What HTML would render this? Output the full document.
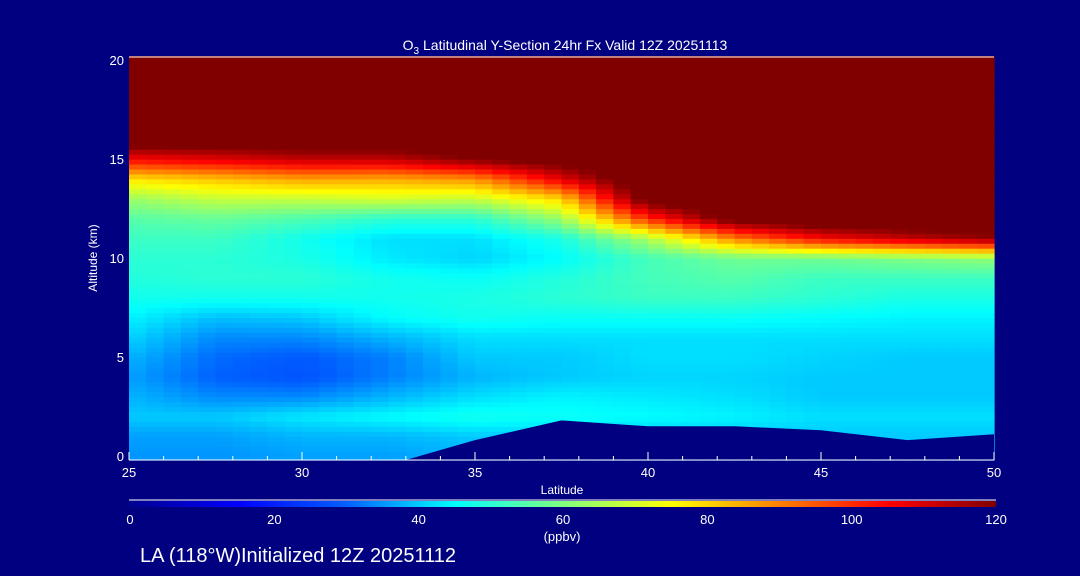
<!DOCTYPE html>
<html><head><meta charset="utf-8"><style>
body{margin:0;background:#000080;}
svg{display:block;font-family:"Liberation Sans",sans-serif;}
</style></head><body>
<svg id="chart" width="1080" height="576" xmlns="http://www.w3.org/2000/svg">
<rect width="1080" height="576" fill="#000080"/>
<defs><linearGradient id="cb" x1="0" x2="1" y1="0" y2="0">
<stop offset="0" stop-color="#000090"/><stop offset="0.125" stop-color="#0000ff"/><stop offset="0.25" stop-color="#0060ff"/><stop offset="0.375" stop-color="#00ffff"/><stop offset="0.5" stop-color="#80ff80"/><stop offset="0.625" stop-color="#ffff00"/><stop offset="0.75" stop-color="#ff8000"/><stop offset="0.875" stop-color="#ff0000"/><stop offset="1" stop-color="#800000"/></linearGradient></defs>
<g id="cells"></g>
<polygon id="ground" fill="#000080"/>
<g id="axes"></g>
<text x="565" y="50" fill="#fff" font-size="14" text-anchor="middle">O<tspan font-size="10" dy="4">3</tspan><tspan dy="-4"> Latitudinal Y-Section 24hr  Fx Valid 12Z 20251113</tspan></text>
<text x="562" y="494" fill="#fff" font-size="12" text-anchor="middle">Latitude</text>
<text x="97" y="258" fill="#fff" font-size="12" text-anchor="middle" transform="rotate(-90 97 258)">Altitude (km)</text>
<line x1="129" x2="996" y1="500" y2="500" stroke="#fff"/>
<rect x="130" y="501" width="866" height="6" fill="url(#cb)"/>
<g id="cbt"></g>
<text x="562" y="541" fill="#fff" font-size="13" text-anchor="middle">(ppbv)</text>
<text x="140" y="562" fill="#fff" font-size="20">LA (118°W)Initialized 12Z 20251112</text>
</svg>
<script>
const lats=[25,27.5,30,32.5,35,37.5,40,42.5,45,47.5,50];
const alts=[0,1,2,3,4,5,6,7,8,9,10,11,12,13,14,15,16,17,18,19,20];
const terrain=[0,0,0,0,0.8,1.8,1.5,1.5,1.3,0.8,1.1];
const ozone=[
[35,35,36,36,38,40,40,40,40,40,40],
[36,36,38,38,40,40,40,40,40,40,40],
[40,40,43,45,47,46,45,44,42,42,42],
[38,34,34,38,42,44,43,42,40,40,40],
[36,30,28,33,38,40,41,41,40,40,40],
[38,31,29,33,40,40,42,42,41,40,40],
[41,34,34,38,42,42,42,42,42,42,42],
[44,39,40,45,47,46,46,46,45,44,44],
[47,47,47,47,48,50,52,52,50,48,48],
[49,50,50,47,46,49,53,55,52,52,52],
[50,50,48,43,41,45,53,58,58,60,62],
[52,52,47,42,42,48,65,90,105,112,118],
[55,57,54,50,50,63,100,125,130,130,130],
[63,68,68,70,68,80,125,130,130,130,130],
[78,82,86,85,88,108,130,130,130,130,130],
[105,108,112,112,120,125,130,130,130,130,130],
[128,128,128,128,128,130,130,130,130,130,130],
[130,130,130,130,130,130,130,130,130,130,130],
[130,130,130,130,130,130,130,130,130,130,130],
[130,130,130,130,130,130,130,130,130,130,130],
[130,130,130,130,130,130,130,130,130,130,130]];
const xTicks=[25,30,35,40,45,50];
const yTicks=[0,5,10,15,20];
const cbTicks=[0,20,40,60,80,100,120];
const NS="http://www.w3.org/2000/svg";
const X=l=>129+(l-25)*865/25;
const Y=a=>456-a*19.8;
const stops=[[0,[0,0,144]],[15,[0,0,255]],[30,[0,96,255]],[45,[0,255,255]],[60,[128,255,128]],[75,[255,255,0]],[90,[255,128,0]],[105,[255,0,0]],[120,[128,0,0]]];
function col(v){v=Math.max(0,Math.min(120,v));for(let i=1;i<stops.length;i++){if(v<=stops[i][0]){const a=stops[i-1],b=stops[i],t=(v-a[0])/(b[0]-a[0]);return 'rgb('+a[1].map((c,k)=>Math.round(c+(b[1][k]-c)*t)).join(',')+')';}}}
function val(l,a){let i=Math.min(lats.length-2,Math.floor((l-25)/2.5)),j=Math.min(alts.length-2,Math.floor(a));const t=(l-lats[i])/2.5,u=a-alts[j];
return (ozone[j][i]*(1-t)+ozone[j][i+1]*t)*(1-u)+(ozone[j+1][i]*(1-t)+ozone[j+1][i+1]*t)*u;}
const g=document.getElementById('cells');
const dl=0.5,da=0.25;
for(let l=25;l<50;l+=dl){for(let a=0;a<20;a+=da){
const lc=l+dl/2,ac=a+da/2;
const r=document.createElementNS(NS,'rect');
r.setAttribute('x',X(l));r.setAttribute('y',Y(a+da)-(a+da>=20?4:0));
r.setAttribute('width',X(l+dl)-X(l)+0.6);r.setAttribute('height',Y(a)-Y(a+da)+0.6+(a==0?4:0)+(a+da>=20?4:0));
r.setAttribute('fill',col(val(lc,ac)));


g.appendChild(r);}}
let pts=[[X(25),Y(0)+4]];
lats.forEach((l,i)=>{let a=terrain[i];if(i==3){pts.push([X(33),Y(0)+4]);}else if(i>3)pts.push([X(l),Y(a)]);});
pts.push([X(50),Y(0)+4]);
document.getElementById('ground').setAttribute('points',pts.map(p=>p.join(',')).join(' '));
const ax=document.getElementById('axes');
function ln(x1,y1,x2,y2,n){const e=document.createElementNS(NS,'line');e.setAttribute('x1',x1);e.setAttribute('y1',y1);e.setAttribute('x2',x2);e.setAttribute('y2',y2);e.setAttribute('stroke','#fff');


ax.appendChild(e);}
function tx(parent,x,y,s,anchor,n,fs){const e=document.createElementNS(NS,'text');e.setAttribute('x',x);e.setAttribute('y',y);e.setAttribute('fill','#fff');e.setAttribute('font-size',fs||13);e.setAttribute('text-anchor',anchor);e.textContent=s;


parent.appendChild(e);}
ln(129,57,994,57,'plot-top-border');ln(129,460,994,460,'x-axis-line');
for(let l=25;l<=50;l++){const big=xTicks.includes(l);ln(X(l),460,X(l),big?452:456,'x-tick');}
xTicks.forEach(l=>tx(ax,X(l),477,String(l),'middle','x-tick-label'));
yTicks.forEach(a=>tx(ax,124,Y(a)+5,String(a),'end','y-tick-label'));
const cbt=document.getElementById('cbt');
cbTicks.forEach(v=>tx(cbt,130+v/120*866,524,String(v),'middle','colorbar-tick-label'));
</script>
</body></html>
